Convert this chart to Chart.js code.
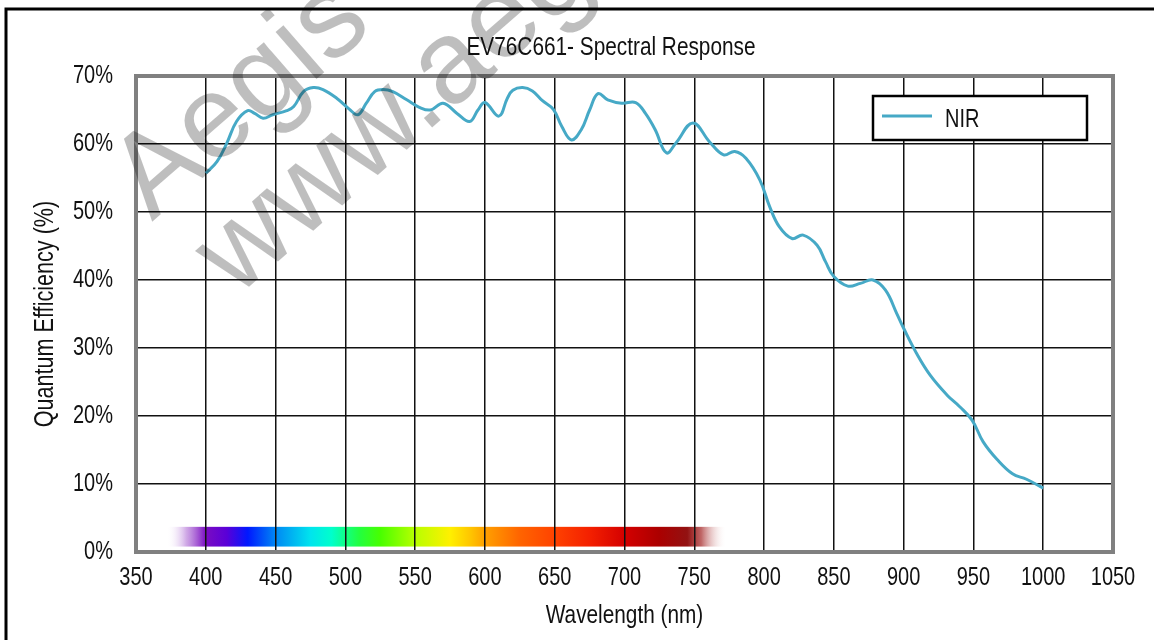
<!DOCTYPE html>
<html>
<head>
<meta charset="utf-8">
<script src="https://cdn.jsdelivr.net/npm/chart.js@4.4.1/dist/chart.umd.min.js"></script>
<style>
  html, body { margin: 0; padding: 0; background: #ffffff; }
  #wrap { width: 1154px; height: 640px; }
</style>
</head>
<body>
<div id="wrap"><canvas id="c" width="1154" height="640"></canvas></div>
<script>
// ---- data ----
const chartTitle = 'EV76C661- Spectral Response';
const seriesLabel = 'NIR';
const xTitle = 'Wavelength (nm)';
const yTitle = 'Quantum Efficiency (%)';

const wavelengths = [400, 408, 415, 422, 430, 435, 441, 448, 458, 463,
  470, 477, 484, 494, 503, 509, 515, 521, 527, 534,
  544, 553, 561, 570, 580, 589, 595, 600, 610, 616,
  620, 627, 634, 641, 649, 655, 662, 669, 675, 681,
  688, 698, 708, 715, 722, 730, 737, 749, 761, 771,
  779, 787, 797, 804, 811, 820, 828, 838, 844, 850,
  860, 869, 878, 887, 895, 900, 909, 919, 931, 940,
  949, 957, 967, 978, 988, 1000];

const qe = [55.7, 57.4, 60.1, 63.3, 64.9, 64.5, 63.8, 64.3, 64.9, 65.5,
  67.7, 68.3, 68.0, 66.7, 65.1, 64.3, 66.0, 67.7, 68.0, 67.7,
  66.5, 65.4, 65.0, 66.0, 64.5, 63.3, 65.0, 66.1, 64.1, 66.7,
  67.9, 68.3, 67.8, 66.4, 65.1, 62.6, 60.6, 62.1, 65.0, 67.4,
  66.5, 66.0, 66.1, 64.5, 62.1, 58.7, 60.2, 63.1, 60.3, 58.4,
  58.9, 57.9, 54.7, 50.8, 47.8, 46.1, 46.6, 45.1, 42.7, 40.5,
  39.1, 39.5, 40.0, 38.5, 35.1, 32.9, 29.3, 26.0, 23.1, 21.4,
  19.4, 16.2, 13.6, 11.5, 10.7, 9.4];

const xTickLabels = ['350','400','450','500','550','600','650','700','750','800','850','900','950','1000','1050'];
const yTickLabels = ['0%','10%','20%','30%','40%','50%','60%','70%'];

// visible-spectrum band (wavelength, colour)
const spectrumStops = [
  [372, 'rgba(255,255,255,0)'],
  [386, 'rgba(170,100,210,0.55)'],
  [400, '#7a0cc2'],
  [415, '#5a00d8'],
  [430, '#0018ff'],
  [450, '#0088f4'],
  [475, '#00e4ee'],
  [490, '#00ffcc'],
  [510, '#22ff40'],
  [525, '#48ff00'],
  [550, '#b8ff00'],
  [575, '#fff000'],
  [590, '#ffc400'],
  [600, '#ffa000'],
  [625, '#ff6400'],
  [650, '#ff4200'],
  [675, '#f42000'],
  [700, '#d40000'],
  [725, '#ab0000'],
  [745, '#921212'],
  [755, 'rgba(170,50,50,0.75)'],
  [773, 'rgba(255,255,255,0)']
];
const spectrumRange = [0.8, 3.7]; // y extent of the band, in % units

// watermark lines
const watermarkLines = ['Aegis', 'www.aegis-elec.com'];

const FONT = "'Liberation Sans', Arial, Helvetica, sans-serif";
const CONDENSE = 0.8; // horizontal condensing of all text (reference uses a condensed face)
Chart.defaults.font.family = FONT;
Chart.defaults.color = '#111';

const canvas = document.getElementById('c');
const ctx2d = canvas.getContext('2d');
// draw every text run horizontally condensed around its anchor point
const nativeFillText = ctx2d.fillText.bind(ctx2d);
ctx2d.fillText = function (text, x, y) {
  this.save();
  this.translate(x, y);
  this.scale(CONDENSE, 1);
  nativeFillText(text, 0, 0);
  this.restore();
};

const decor = {
  id: 'decor',
  beforeDraw(chart) {
    const c = chart.ctx, W = chart.width, H = chart.height;
    c.save();
    c.fillStyle = '#ffffff';
    c.fillRect(0, 0, W, H);
    // outer frame (top and left lines)
    c.strokeStyle = '#000';
    c.lineWidth = 3;
    c.beginPath();
    c.moveTo(6, H + 5); c.lineTo(6, 9); c.lineTo(W + 5, 9);
    c.stroke();
    // spectrum band
    const xs = chart.scales.x, ys = chart.scales.y;
    const x0 = xs.getPixelForValue(spectrumStops[0][0]);
    const x1 = xs.getPixelForValue(spectrumStops[spectrumStops.length - 1][0]);
    const yTop = ys.getPixelForValue(spectrumRange[1]);
    const yBot = ys.getPixelForValue(spectrumRange[0]);
    const g = c.createLinearGradient(x0, 0, x1, 0);
    spectrumStops.forEach(([w, col]) => {
      g.addColorStop((xs.getPixelForValue(w) - x0) / (x1 - x0), col);
    });
    c.fillStyle = g;
    c.fillRect(x0, yTop, x1 - x0, yBot - yTop);
    c.restore();
  },
  beforeDatasetsDraw(chart) {
    const c = chart.ctx, a = chart.chartArea;
    c.save();
    c.strokeStyle = '#808080';
    c.lineWidth = 4;
    c.strokeRect(a.left, a.top, a.right - a.left, a.bottom - a.top);
    c.restore();
  },
  afterDatasetsDraw(chart) {
    // legend box
    const c = chart.ctx, a = chart.chartArea;
    const ds = chart.data.datasets[0];
    const bx = a.right - 240, by = a.top + 20, bw = 214, bh = 44;
    c.save();
    c.fillStyle = '#fff';
    c.fillRect(bx, by, bw, bh);
    c.strokeStyle = '#000';
    c.lineWidth = 2.5;
    c.strokeRect(bx, by, bw, bh);
    c.strokeStyle = ds.borderColor;
    c.lineWidth = 3;
    c.beginPath();
    c.moveTo(bx + 9, by + 20); c.lineTo(bx + 59, by + 20);
    c.stroke();
    c.fillStyle = '#111';
    c.font = '25px ' + FONT;
    c.textBaseline = 'alphabetic';
    c.textAlign = 'left';
    c.fillText(ds.label, bx + 72, by + 31);
    c.restore();
  },
  afterDraw(chart) {
    const c = chart.ctx;
    // watermark
    const wm = (text, x, y) => {
      c.save();
      c.fillStyle = 'rgba(0,0,0,0.255)';
      c.font = '118px ' + FONT;
      c.textAlign = 'left';
      c.textBaseline = 'alphabetic';
      c.translate(x, y);
      c.rotate(-41 * Math.PI / 180);
      c.scale(1 / CONDENSE, 1);
      c.fillText(text, 0, 0);
      c.restore();
    };
    wm(watermarkLines[0], 152, 222);
    wm(watermarkLines[1], 236, 298);
    // title
    c.save();
    c.fillStyle = '#111';
    c.font = '26px ' + FONT;
    c.textAlign = 'center';
    c.textBaseline = 'alphabetic';
    c.fillText(chartTitle, 611, 55);
    c.restore();
  }
};

const gridColor = (minV, maxV) => (ctx) => {
  const v = ctx.tick ? ctx.tick.value : null;
  return (v === minV || v === maxV) ? 'rgba(0,0,0,0)' : '#111';
};

new Chart(canvas, {
  type: 'line',
  data: {
    datasets: [{
      label: seriesLabel,
      data: wavelengths.map((w, i) => ({ x: w, y: qe[i] })),
      borderColor: '#46a9c6',
      borderWidth: 3,
      pointRadius: 0,
      fill: false,
      tension: 0.4
    }]
  },
  options: {
    responsive: false,
    animation: false,
    layout: { padding: { left: 0, right: 41, top: 76, bottom: 0 } },
    plugins: {
      legend: { display: false },
      title: { display: false },
      tooltip: { enabled: false }
    },
    scales: {
      x: {
        type: 'linear', min: 350, max: 1050,
        ticks: {
          stepSize: 50, padding: 11, maxRotation: 0, autoSkip: false,
          font: { size: 25 }, color: '#111',
          callback: (v, i) => xTickLabels[i]
        },
        grid: { color: gridColor(350, 1050), lineWidth: 1.5, drawTicks: false },
        border: { display: false },
        title: { display: true, text: xTitle, font: { size: 26 }, color: '#111', padding: { top: 0, bottom: 9 } },
        afterFit(s) { s.height = 88; }
      },
      y: {
        min: 0, max: 70,
        ticks: {
          stepSize: 10, padding: 23,
          font: { size: 25 }, color: '#111',
          callback: (v, i) => yTickLabels[i]
        },
        grid: { color: gridColor(0, 70), lineWidth: 1.5, drawTicks: false },
        border: { display: false },
        title: { display: true, text: yTitle, font: { size: 27 }, color: '#111', padding: { top: 29, bottom: 0 } },
        afterFit(s) { s.width = 136; }
      }
    }
  },
  plugins: [decor]
});
</script>
</body>
</html>
